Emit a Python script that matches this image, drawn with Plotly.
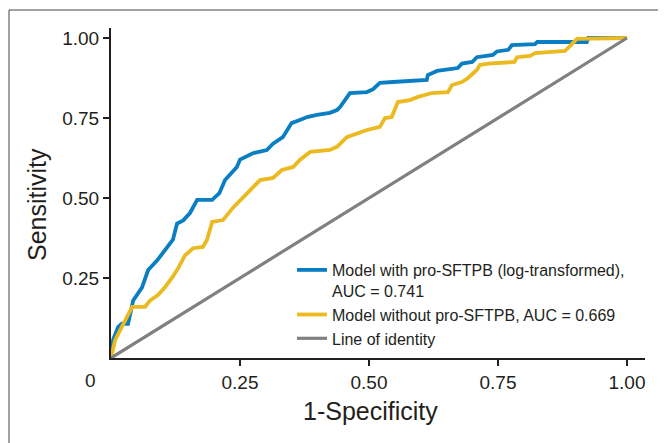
import plotly.graph_objects as go

# ROC curve: model with pro-SFTPB (log-transformed)
blue_x = [0, 0.004, 0.014, 0.021, 0.033, 0.043, 0.06, 0.072, 0.09, 0.105, 0.12, 0.128, 0.14, 0.153,
          0.167, 0.196, 0.21, 0.221, 0.244, 0.25, 0.275, 0.302, 0.314, 0.333, 0.35, 0.366, 0.38,
          0.399, 0.424, 0.438, 0.444, 0.463, 0.496, 0.508, 0.521, 0.546, 0.612, 0.614, 0.632,
          0.672, 0.68, 0.70, 0.709, 0.74, 0.748, 0.77, 0.777, 0.822, 0.826, 0.922, 0.925, 1.0]
blue_y = [0, 0.056, 0.097, 0.107, 0.107, 0.18, 0.22, 0.275, 0.306, 0.34, 0.37, 0.42, 0.43, 0.453,
          0.494, 0.494, 0.515, 0.556, 0.597, 0.62, 0.64, 0.65, 0.67, 0.69, 0.734, 0.744, 0.753,
          0.76, 0.766, 0.775, 0.784, 0.828, 0.831, 0.84, 0.86, 0.8625, 0.869, 0.884, 0.897,
          0.906, 0.92, 0.925, 0.94, 0.947, 0.958, 0.963, 0.978, 0.981, 0.9875, 0.9875, 1.0, 1.0]

# ROC curve: model without pro-SFTPB
yellow_x = [0, 0.008, 0.021, 0.031, 0.041, 0.066, 0.076, 0.091, 0.105, 0.118, 0.13, 0.143, 0.159,
            0.178, 0.186, 0.196, 0.217, 0.236, 0.256, 0.275, 0.289, 0.314, 0.331, 0.353, 0.366,
            0.386, 0.424, 0.438, 0.457, 0.496, 0.521, 0.531, 0.544, 0.556, 0.579, 0.595, 0.622,
            0.653, 0.661, 0.68, 0.692, 0.709, 0.715, 0.731, 0.782, 0.787, 0.812, 0.822, 0.88,
            0.886, 0.895, 0.903, 1.0]
yellow_y = [0, 0.056, 0.097, 0.128, 0.16, 0.16, 0.18, 0.197, 0.222, 0.25, 0.28, 0.32, 0.343,
            0.347, 0.369, 0.425, 0.431, 0.469, 0.503, 0.534, 0.556, 0.5625, 0.5875, 0.597, 0.619,
            0.644, 0.65, 0.66, 0.69, 0.7125, 0.722, 0.75, 0.753, 0.8, 0.806, 0.816, 0.828,
            0.831, 0.853, 0.8625, 0.875, 0.9, 0.916, 0.92, 0.925, 0.94, 0.944, 0.953, 0.96,
            0.969, 0.984, 0.997, 1.0]

identity_x = [0, 1]
identity_y = [0, 1]

tick_vals = [0.25, 0.5, 0.75, 1.0]
tick_text = ["0.25", "0.50", "0.75", "1.00"]

names = ["Model with pro-SFTPB (log-transformed),<br>AUC = 0.741",
         "Model without pro-SFTPB, AUC = 0.669",
         "Line of identity"]

BLUE = "#0a7ec2"
YELLOW = "#ebb920"
GREY = "#808080"
INK = "#231f20"
FONT = "Liberation Sans, Arial, Helvetica, sans-serif"

fig = go.Figure()
fig.add_trace(go.Scatter(x=blue_x, y=blue_y, mode="lines", name=names[0],
                         line=dict(color=BLUE, width=3.8)))
fig.add_trace(go.Scatter(x=yellow_x, y=yellow_y, mode="lines", name=names[1],
                         line=dict(color=YELLOW, width=3.8)))
fig.add_trace(go.Scatter(x=identity_x, y=identity_y, mode="lines", name=names[2],
                         line=dict(color=GREY, width=3.2)))

OFF = 8  # page body margin
W, H = 666, 443
L, T = 111 - OFF, 28 - OFF
R, B = W - (645 - OFF), H - (358 - OFF)
pw, ph = W - L - R, H - T - B

def px(xs):
    return (xs - OFF - L) / pw

def py(ys):
    return (H - B - (ys - OFF)) / ph

fig.update_layout(
    width=W, height=H,
    margin=dict(l=L, r=R, t=T, b=B),
    paper_bgcolor="white", plot_bgcolor="white",
    showlegend=True,
    legend=dict(x=px(292), y=py(253), xanchor="left", yanchor="top",
                bgcolor="rgba(0,0,0,0)", valign="top",
                font=dict(family=FONT, size=16, color=INK)),
    xaxis=dict(range=[0, pw / 516], showgrid=False, zeroline=False,
               showline=True, linecolor=INK, linewidth=2,
               ticks="outside", ticklen=6, tickwidth=1.5, tickcolor=INK,
               tickvals=tick_vals, ticktext=tick_text,
               tickfont=dict(family=FONT, size=19, color=INK)),
    yaxis=dict(range=[0, ph / 320], showgrid=False, zeroline=False,
               showline=True, linecolor=INK, linewidth=2,
               ticks="outside", ticklen=6, tickwidth=1.5, tickcolor=INK,
               tickvals=tick_vals, ticktext=tick_text,
               tickfont=dict(family=FONT, size=19, color=INK)),
    annotations=[
        dict(text="0", x=px(90), y=py(380), xref="paper", yref="paper",
             xanchor="center", yanchor="middle",
             showarrow=False, font=dict(family=FONT, size=19, color=INK)),
        dict(text="1-Specificity", x=px(370), y=py(411), xref="paper", yref="paper",
             xanchor="center", yanchor="middle",
             showarrow=False, font=dict(family=FONT, size=25, color=INK)),
        dict(text="Sensitivity", x=px(37), y=py(205), xref="paper", yref="paper",
             xanchor="center", yanchor="middle",
             textangle=-90, showarrow=False, font=dict(family=FONT, size=25, color=INK)),
    ],
    shapes=[
        dict(type="line", xref="paper", yref="paper", x0=px(9), x1=px(9), y0=py(10), y1=py(460),
             line=dict(color="#444444", width=1)),
        dict(type="line", xref="paper", yref="paper", x0=px(9), x1=px(680), y0=py(10), y1=py(10),
             line=dict(color="#444444", width=1)),
    ],
)

fig.write_html("out.html")
